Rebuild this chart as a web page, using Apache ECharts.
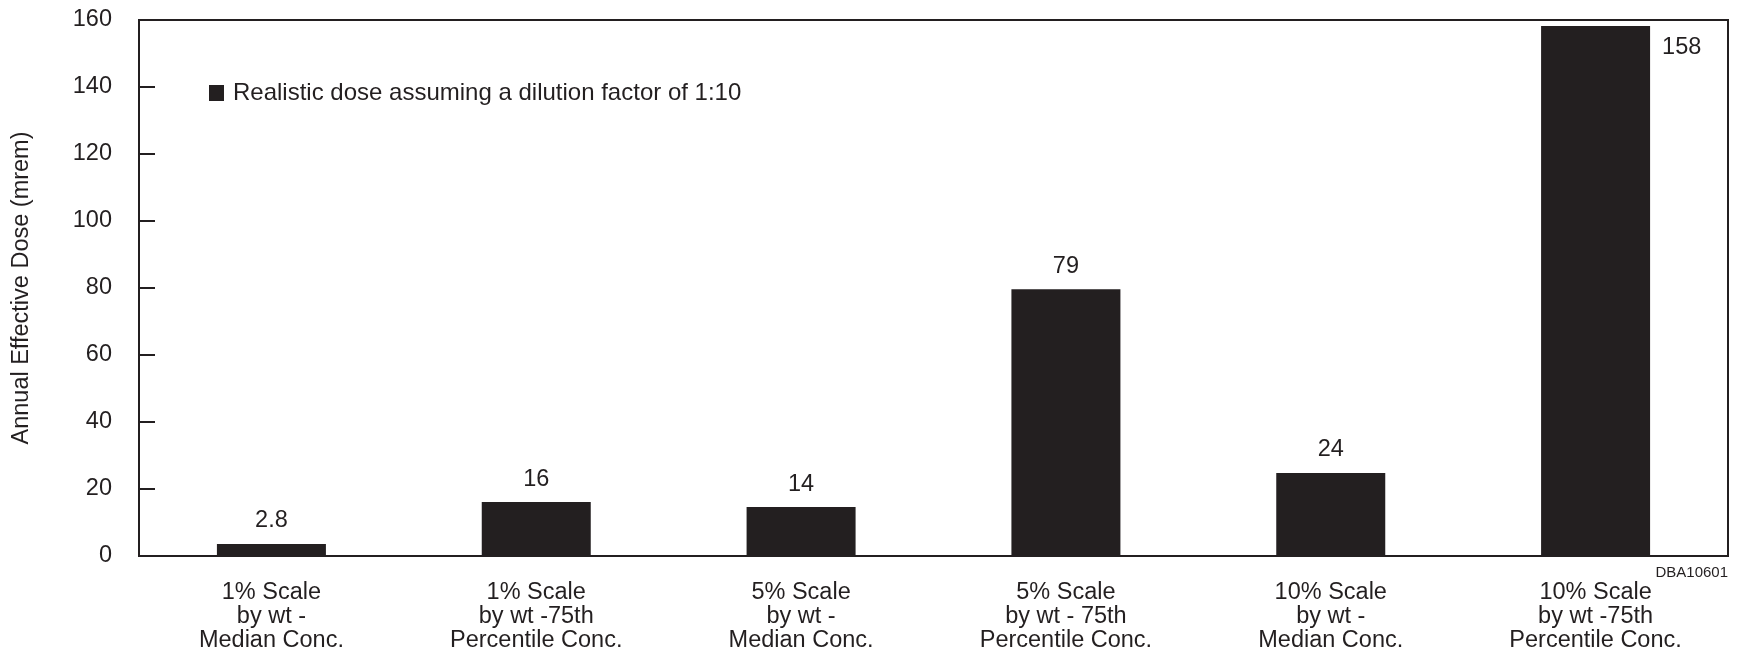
<!DOCTYPE html>
<html>
<head>
<meta charset="utf-8">
<script src="https://cdn.jsdelivr.net/npm/echarts@6/dist/echarts.min.js"></script>
<style>
  html, body { margin: 0; padding: 0; background: #fff; }
  #chart { width: 1743px; height: 655px; }
</style>
</head>
<body>
<div id="chart"></div>
<script>
const categories = [
  '1% Scale\nby wt -\nMedian Conc.',
  '1% Scale\nby wt -75th\nPercentile Conc.',
  '5% Scale\nby wt -\nMedian Conc.',
  '5% Scale\nby wt - 75th\nPercentile Conc.',
  '10% Scale\nby wt -\nMedian Conc.',
  '10% Scale\nby wt -75th\nPercentile Conc.'
];
// bar heights as drawn in the picture
const doseValues = [3.6, 16.1, 14.6, 79.6, 24.8, 158.2];
// the printed value labels
const doseLabels = ['2.8', '16', '14', '79', '24', '158'];
const seriesName = 'Realistic dose assuming a dilution factor of 1:10';
const yMin = 0, yMax = 160, yStep = 20;

const ink = '#231f20';
const font = 'Liberation Sans, Arial, sans-serif';
const fs = 23.5;

let myChart = echarts.init(document.getElementById('chart'));

myChart.setOption({
  animation: false,
  textStyle: { fontFamily: font, color: ink },
  grid: {
    left: 139, right: 15, top: 20, bottom: 99,
    show: true,
    borderColor: ink,
    borderWidth: 2
  },
  legend: {
    left: 209,
    top: 81,
    padding: 0,
    icon: 'rect',
    itemWidth: 15,
    itemHeight: 16,
    textStyle: { fontSize: 24, color: ink, fontFamily: font, padding: [0, 0, 0, 4] },
    data: [seriesName]
  },
  xAxis: {
    type: 'category',
    data: categories,
    axisTick: { show: false },
    axisLine: { lineStyle: { color: ink, width: 2 } },
    axisLabel: {
      interval: 0,
      margin: 25,
      fontSize: fs,
      lineHeight: 24,
      color: ink,
      fontFamily: font,
      align: 'center'
    }
  },
  yAxis: {
    type: 'value',
    min: yMin,
    max: yMax,
    interval: yStep,
    name: 'Annual Effective Dose (mrem)',
    nameLocation: 'middle',
    nameGap: 105,
    nameTextStyle: { fontSize: fs, color: ink, fontFamily: font },
    splitLine: { show: false },
    axisLine: { show: true, lineStyle: { color: ink, width: 2 } },
    axisTick: { show: true, inside: true, length: 16, lineStyle: { color: ink, width: 2 } },
    axisLabel: { fontSize: fs, color: ink, fontFamily: font, margin: 27 }
  },
  graphic: [{
    type: 'text',
    right: 15,
    top: 565,
    style: { text: 'DBA10601', fontSize: 15, fill: ink, fontFamily: font }
  }],
  series: [{
    name: seriesName,
    type: 'bar',
    barWidth: 109,
    itemStyle: { color: ink },
    label: {
      show: true,
      position: 'top',
      distance: 11,
      fontSize: fs,
      color: ink,
      fontFamily: font,
      formatter: p => doseLabels[p.dataIndex]
    },
    data: doseValues.map((v, i) => i === doseValues.length - 1
      ? { value: v, label: { position: [121, 9], align: 'left', verticalAlign: 'top' } }
      : v)
  }]
});
</script>
</body>
</html>
